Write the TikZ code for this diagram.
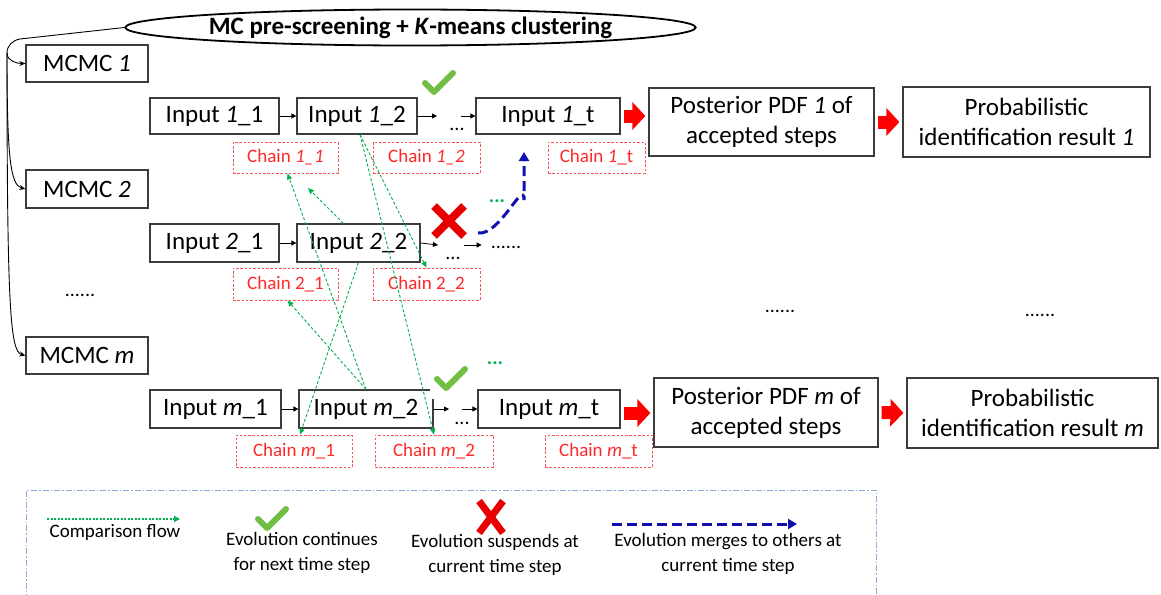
\documentclass[tikz,border=0pt]{standalone}
\usepackage{fontspec}
\setmainfont{Carlito}
\usetikzlibrary{arrows.meta,shapes.geometric}
\definecolor{chkgreen}{RGB}{112,190,67}
\definecolor{flowgreen}{RGB}{0,176,80}
\definecolor{xred}{RGB}{232,0,0}
\definecolor{mergeblue}{RGB}{16,16,176}
\definecolor{legframe}{RGB}{143,170,210}
\definecolor{boxgray}{RGB}{60,60,60}
\definecolor{chainred}{RGB}{255,40,40}
\begin{document}
\begin{tikzpicture}[x=1pt,y=-1pt,
  box/.style={draw=boxgray, line width=1.2pt, inner sep=0pt, align=center, fill=white, font=\fontsize{25}{30}\selectfont},
  chainbox/.style={draw=chainred!80, dash pattern=on 2.5pt off 1.8pt, line width=0.8pt, text=chainred, inner sep=0pt, font=\fontsize{19}{22}\selectfont},
  smallarrow/.style={draw=black, line width=0.8pt, -{Triangle[length=5pt,width=5pt]}},
  bigarrow/.style={draw=red, line width=13pt, shorten <=3pt, shorten >=3pt, -{Triangle[length=13pt,width=27pt]}},
  flow/.style={draw=flowgreen, line width=0.9pt, dash pattern=on 3pt off 2pt, -{Triangle[length=6pt,width=5pt]}},
  merge/.style={draw=mergeblue, line width=3pt, dash pattern=on 10pt off 5pt, -{Triangle[length=9pt,width=10pt]}},
  feed/.style={draw=black, line width=0.9pt, -{Stealth[length=6pt,width=5pt]}},
  dotstext/.style={inner sep=0pt, font=\fontsize{20}{24}\selectfont},
  greendots/.style={inner sep=0pt, text=flowgreen, font=\bfseries\fontsize{20}{24}\selectfont},
  legtext/.style={inner sep=0pt, align=center, font=\fontsize{19}{25}\selectfont},
  chk/.pic={\fill[white] (-21,-21) rectangle (21,21);
            \draw[chkgreen, line width=6pt, line cap=round, line join=round] (-14,1) -- (-5,10) -- (14,-9);},
  chkplain/.pic={\draw[chkgreen, line width=6pt, line cap=round, line join=round] (-14,1) -- (-5,10) -- (14,-9);},
  xmark/.pic={\draw[xred, line width=8pt] (-15,-15) -- (15,15) (15,-15) -- (-15,15);},
  xmarkleg/.pic={\draw[xred, line width=7pt] (-12,-16) -- (12,16) (12,-16) -- (-12,16);}
]
\useasboundingbox (0,0) rectangle (1161,594);

% top ellipse and MCMC boxes
\node[ellipse, draw=black, line width=1.8pt, minimum width=455pt, minimum height=36pt, inner sep=0pt,
      font=\bfseries\fontsize{25}{30}\selectfont] (ell) at (410.5,27.5) {MC pre-screening + \textit{K}-means clustering};
\node[box, minimum width=122pt, minimum height=37pt] (mc1) at (87,63.5) {MCMC \textit{1}};
\node[box, minimum width=122pt, minimum height=38pt] (mc2) at (87,189) {MCMC \textit{2}};
\node[box, minimum width=122pt, minimum height=37pt] (mcm) at (87,355.5) {MCMC \textit{m}};
\node[dotstext] (ldots) at (80,295) {......};

\coordinate (bendpt) at (20,39);
\coordinate (split) at (7,53);
\draw[black, line width=0.9pt] (ell.west) -- (bendpt) to[out=190,in=90] (split);
\draw[feed] (split) to[out=-90,in=180] (mc1.west);
\draw[feed] (split) .. controls +(0,105) and +(-15,-4) .. (mc2.west);
\draw[feed] (split) .. controls +(0,260) and +(-15,-4) .. (mcm.west);

% row 1
\node[box, minimum width=129pt, minimum height=36pt] (in11) at (214.5,116) {Input \textit{1}\_1};
\node[box, minimum width=120pt, minimum height=36pt] (in12) at (357,116) {Input \textit{1}\_2};
\node[box, minimum width=144pt, minimum height=36pt] (in1t) at (548,116) {Input \textit{1}\_t};
\node[box, minimum width=225pt, minimum height=68pt] (post1) at (761.5,122) {Posterior PDF \textit{1} of\\accepted steps};
\node[box, minimum width=247pt, minimum height=70pt] (prob1) at (1026.5,122) {Probabilistic\\identification result \textit{1}};
\node[chainbox, minimum width=105pt, minimum height=31pt] (ch11) at (285.5,157.5) {Chain \textit{1\_1}};
\node[chainbox, minimum width=107pt, minimum height=31pt] (ch12) at (426.5,157.5) {Chain \textit{1\_2}};
\node[chainbox, minimum width=97pt, minimum height=31pt] (ch1t) at (596.5,157.5) {Chain \textit{1}\_t};
\node[dotstext] (dots1) at (457,129) {...};
\coordinate (r1a) at (437,116);
\coordinate (r1b) at (461,116);
\draw[smallarrow] (in11.east) -- (in12.west);
\draw[smallarrow] (in12.east) -- (r1a);
\draw[smallarrow] (r1b) -- (in1t.west);

% row 2
\node[box, minimum width=129pt, minimum height=38pt] (in21) at (214.5,243) {Input \textit{2}\_1};
\node[box, minimum width=123pt, minimum height=38pt] (in22) at (358.5,243) {Input \textit{2}\_2};
\node[chainbox, minimum width=105pt, minimum height=32pt] (ch21) at (285.5,284) {Chain 2\_1};
\node[chainbox, minimum width=107pt, minimum height=32pt] (ch22) at (426.5,284) {Chain 2\_2};
\node[dotstext] (dots2) at (453,258) {...};
\node[dotstext] (dd2) at (506,247) {......};
\coordinate (r2a) at (438,245);
\coordinate (r2b) at (464,245);
\draw[smallarrow] (in21.east) -- (in22.west);
\draw[smallarrow] (in22.east) -- (r2a);
\draw[smallarrow] (r2b) -- ([xshift=-9pt]dd2.west |- r2b);

% row m
\node[box, minimum width=131pt, minimum height=38pt] (inm1) at (215.5,409) {Input \textit{m}\_1};
\node[box, minimum width=134pt, minimum height=38pt] (inm2) at (366,409) {Input \textit{m}\_2};
\node[box, minimum width=142pt, minimum height=38pt] (inmt) at (549,409) {Input \textit{m}\_t};
\node[box, minimum width=224pt, minimum height=69pt] (postm) at (766,412.5) {Posterior PDF \textit{m} of\\accepted steps};
\node[box, minimum width=251pt, minimum height=70pt] (probm) at (1032.5,413) {Probabilistic\\identification result \textit{m}};
\node[chainbox, minimum width=116pt, minimum height=32pt] (chm1) at (294,451) {Chain \textit{m}\_1};
\node[chainbox, minimum width=118pt, minimum height=32pt] (chm2) at (434,451) {Chain \textit{m}\_2};
\node[chainbox, minimum width=107pt, minimum height=32pt] (chmt) at (598.5,451) {Chain \textit{m}\_t};
\node[dotstext] (dotsm) at (462,423) {...};
\coordinate (rma) at (449,409);
\coordinate (rmb) at (462,409);
\draw[smallarrow] (inm1.east) -- (inm2.west);
\draw[smallarrow] (inm2.east) -- (rma);
\draw[smallarrow] (rmb) -- (inmt.west);

% big red arrows
\draw[bigarrow] (in1t.east) -- (in1t.east -| post1.west);
\draw[bigarrow] (post1.east) -- (prob1.west);
\draw[bigarrow] ([yshift=-4pt]inmt.east) -- ([yshift=-4pt]inmt.east -| postm.west);
\draw[bigarrow] (postm.east) -- (probm.west);

% other dots
\node[dotstext] (mdots) at (780,311) {......};
\node[dotstext] (rdots) at (1040,315) {......};

% marks
\pic at (439,82) {chk};
\pic at (451,378) {chk};
\pic at (449,221) {xmark};
\node[greendots] (gd1) at (497,201) {...};
\node[greendots] (gd2) at (495,363) {...};

% merge arrow
\coordinate (mstart) at (478,233);
\coordinate (mmid) at (524,200);
\coordinate (mend) at (524,152);
\draw[merge] (mstart) to[out=-8,in=90] (mmid) -- (mend);

% comparison flow arrows
\coordinate (g3end) at (308,188);
\draw[flow] ([xshift=3pt]in12.south) -- (ch22.north);
\draw[flow] ([xshift=3pt]in12.south) -- (chm2.north);
\draw[flow] ([xshift=-15pt]in22.north) -- (g3end);
\draw[flow] (in22.south) -- ([xshift=6pt]chm1.north);
\draw[flow] (inm2.north) -- ([xshift=2pt]ch21.south);
\draw[flow] (inm2.north) -- ([xshift=2pt]ch11.south);

% legend
\draw[legframe, line width=0.9pt, dash pattern=on 6pt off 2pt on 1.5pt off 2pt] (26,600) -- (26,490) -- (876,490) -- (876,600);
\coordinate (lga) at (47,519);
\coordinate (lgb) at (180,519);
\draw[draw=flowgreen, line width=1.4pt, dash pattern=on 2pt off 1.5pt, -{Triangle[length=6pt,width=6pt]}] (lga) -- (lgb);
\node[legtext] (lg1) at (115,532) {Comparison flow};
\pic at (272,518) {chkplain};
\node[legtext] (lg2) at (302,553) {Evolution continues\\for next time step};
\pic at (491,517) {xmarkleg};
\node[legtext] (lg3) at (495,555) {Evolution suspends at\\current time step};
\coordinate (lba) at (612,524);
\coordinate (lbb) at (797,524);
\draw[merge] (lba) -- (lbb);
\node[legtext] (lg4) at (728,554) {Evolution merges to others at\\current time step};
\end{tikzpicture}
\end{document}
